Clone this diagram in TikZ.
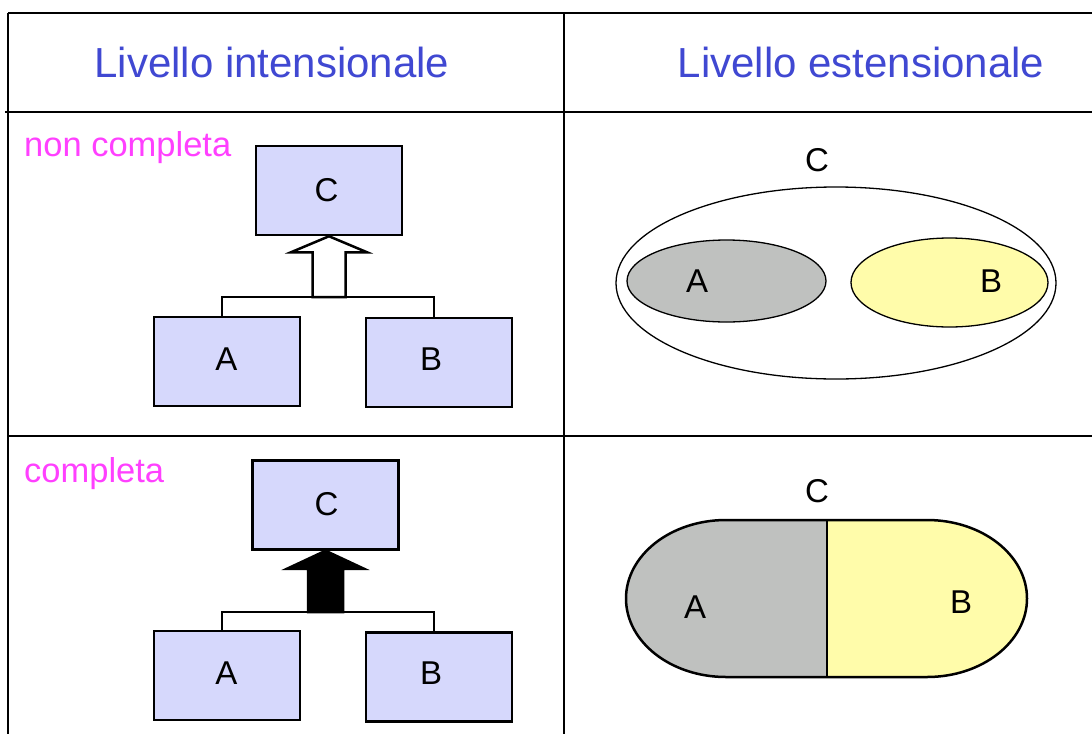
\documentclass[tikz,border=0pt]{standalone}
\usepackage{fontspec}
\setmainfont{Liberation Sans}
\usetikzlibrary{calc}
\definecolor{hdrblue}{RGB}{64,72,210}
\definecolor{magtxt}{RGB}{255,64,255}
\definecolor{boxfill}{RGB}{214,216,252}
\definecolor{setgray}{RGB}{191,193,191}
\definecolor{setyellow}{RGB}{255,252,170}
\tikzset{
  grid/.style={line width=1.4pt, black},
  umlbox/.style={draw, line width=2.5pt, fill=boxfill, minimum width=146pt, minimum height=89pt, inner sep=0pt},
  conn/.style={line width=2.5pt, line join=miter},
  hollowarrow/.style={draw, line width=2.5pt, fill=white, line join=miter},
  fullarrow/.style={draw, line width=2.5pt, fill=black, line join=miter},
  hdr/.style={font=\fontsize{42}{42}\selectfont, text=hdrblue, inner sep=0pt},
  tag/.style={font=\fontsize{34.5}{34.5}\selectfont, text=magtxt, inner sep=0pt, anchor=west},
  lbl/.style={font=\fontsize{33}{33}\selectfont, inner sep=0pt},
}
\begin{document}
\begin{tikzpicture}[x=1pt, y=-1pt]
\useasboundingbox (0,0) rectangle (1092,734);
% table grid
\draw[grid] (8,13) -- (1092,13);
\draw[grid] (8,13) -- (8,734);
\draw[grid] (564,13) -- (564,734);
\draw[grid] (5,112) -- (1092,112);
\draw[grid] (8,436) -- (1092,436);
% headers
\node[hdr] (h1) at (272,62) {Livello intensionale};
\node[hdr] (h2) at (861,62) {Livello estensionale};
% tags
\node[tag] (t1) at (24,148) {non completa};
\node[tag] (t2) at (24,474) {completa};

% ---- top-left: non completa ----
\node[umlbox] (C1) at (329,190.5) {};
\node[umlbox] (A1) at (227,361.5) {};
\node[umlbox] (B1) at (439,362.5) {};
\node[lbl] (lc1) at (326.5,190) {C};
\node[lbl] (la1) at (226.5,359) {A};
\node[lbl] (lb1) at (431,359) {B};
\coordinate (j1) at (C1.south |- 0,297);
\path (C1.south) ++(0,16) coordinate (hb1);
\draw[conn] ([xshift=-5pt]A1.north) |- (j1) -| ([xshift=-5pt]B1.north);
\draw[hollowarrow] (C1.south) -- ($(hb1)+(38,0)$) -- ($(hb1)+(16.5,0)$) -- ($(j1)+(16.5,0)$)
  -- ($(j1)+(-16.5,0)$) -- ($(hb1)+(-16.5,0)$) -- ($(hb1)+(-38,0)$) -- cycle;

% ---- bottom-left: completa ----
\node[umlbox] (C2) at (325.5,505) {};
\node[umlbox] (A2) at (227,675.5) {};
\node[umlbox] (B2) at (439,677) {};
\node[lbl] (lc2) at (326.5,504) {C};
\node[lbl] (la2) at (226.5,673) {A};
\node[lbl] (lb2) at (431,673) {B};
\coordinate (j2) at (C2.south |- 0,612);
\path (C2.south) ++(0,18) coordinate (hb2);
\draw[conn] ([xshift=-5pt]A2.north) |- (j2) -| ([xshift=-5pt]B2.north);
\draw[fullarrow] (C2.south) -- ($(hb2)+(38.5,0)$) -- ($(hb2)+(17.5,0)$) -- ($(j2)+(17.5,0)$)
  -- ($(j2)+(-17.5,0)$) -- ($(hb2)+(-17.5,0)$) -- ($(hb2)+(-38.5,0)$) -- cycle;

% ---- top-right: sets ----
\draw[line width=1.3pt, fill=white] (836,283) ellipse [x radius=220pt, y radius=96pt];
\draw[line width=1.3pt, fill=setgray] (726.5,281) ellipse [x radius=99.5pt, y radius=41pt];
\draw[line width=1.3pt, fill=setyellow] (949.5,282.5) ellipse [x radius=98.5pt, y radius=44.5pt];
\node[lbl] (sc1) at (817,160) {C};
\node[lbl] (sa1) at (697,281) {A};
\node[lbl] (sb1) at (991,281) {B};

% ---- bottom-right: partition ----
\fill[setgray] (827,520) -- (726,520) arc[start angle=90, end angle=270, x radius=100pt, y radius=78.5pt] -- (827,677) -- cycle;
\fill[setyellow] (827,520) -- (927,520) arc[start angle=90, end angle=-90, x radius=100pt, y radius=78.5pt] -- (827,677) -- cycle;
\draw[line width=2.5pt] (726,520) -- (927,520) arc[start angle=90, end angle=-90, x radius=100pt, y radius=78.5pt]
  -- (726,677) arc[start angle=270, end angle=90, x radius=100pt, y radius=78.5pt] -- cycle;
\draw[line width=2.5pt] (827,520) -- (827,677);
\node[lbl] (sc2) at (817,491) {C};
\node[lbl] (sa2) at (695,607) {A};
\node[lbl] (sb2) at (961,602) {B};
\end{tikzpicture}
\end{document}
